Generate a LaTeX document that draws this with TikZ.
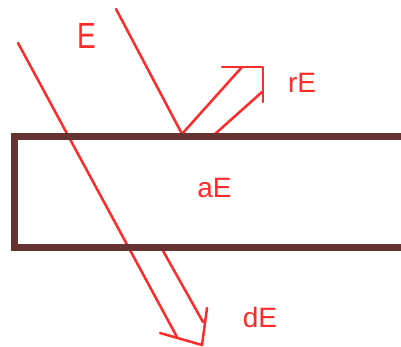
\documentclass[tikz,border=0pt]{standalone}
\usepackage{fontspec}
\setmainfont{Liberation Sans}
\definecolor{rayred}{HTML}{FF2A2A}
\definecolor{slabbrown}{HTML}{663333}
\tikzset{
  ray/.style={rayred, line width=2.5pt, line cap=round, line join=round},
  slab/.style={slabbrown, line width=7pt},
  lbl/.style={rayred, inner sep=0pt, font=\fontsize{28}{28}\selectfont},
}

\begin{document}
\begin{tikzpicture}[x=1pt,y=-1pt]
			\clip (0,0) rectangle (401,347);
			\coordinate (inA) at (18,43);
			\coordinate (inB) at (116,9);
			\coordinate (hitB) at (182,134);
			\coordinate (tipR) at (263,67);
			\coordinate (tipD) at (202,345);
			% incoming rays
			\draw[ray] (inA) -- (177,337);
			\draw[ray] (inB) -- (hitB);
			% reflected arrow
			\draw[ray] (hitB) -- (242,67);
			\draw[ray] (222,67) -- (tipR) -- (263,102);
			\draw[ray] (215,134) -- (262,92);
			% transmitted arrow
			\draw[ray] (160,333) -- (tipD) -- (207,308);
			\draw[ray] (162,249) -- (203,322);
			% slab
			\draw[slab] (430,137) -| (14,247) -- (430,247);
			\node[lbl, yscale=1.3, transform shape] (lblE) at (86.5,36) {E};
			\node[lbl] (lblR) at (302,83) {rE};
			\node[lbl] (lblA) at (214.5,188.5) {aE};
			\node[lbl] (lblD) at (260,317) {dE};
		\end{tikzpicture}
\end{document}
